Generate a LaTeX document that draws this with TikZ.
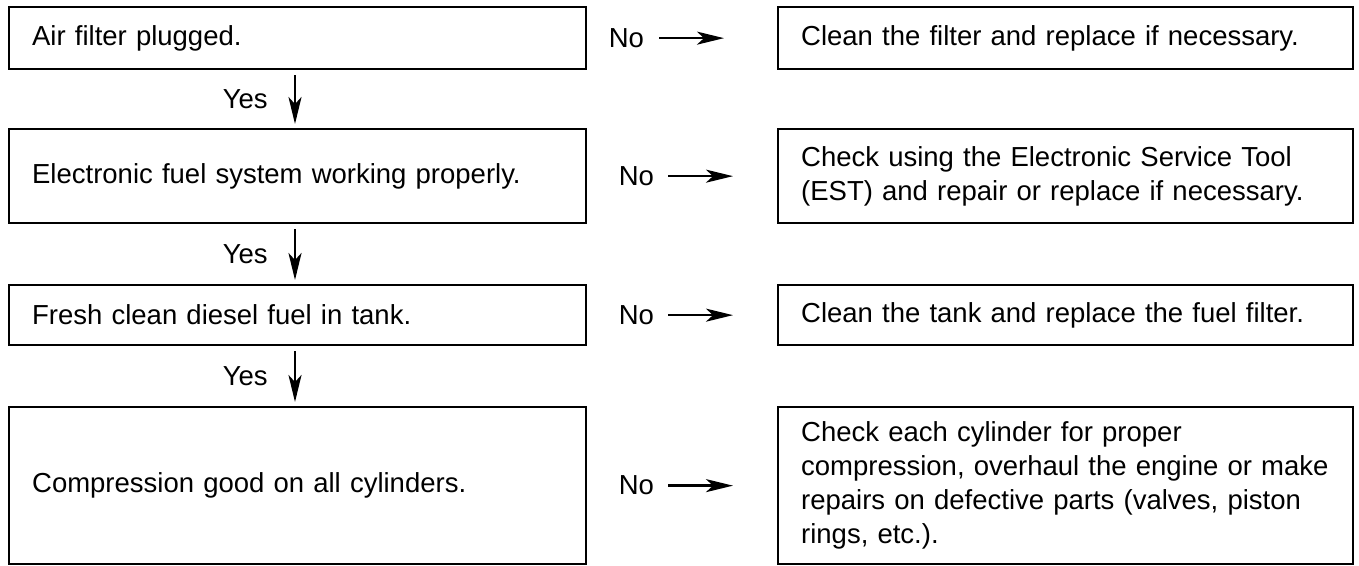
\documentclass[tikz,border=0pt]{standalone}
\usepackage{fontspec}
\setmainfont{Liberation Sans}
\usetikzlibrary{arrows.meta}
\begin{document}
\begin{tikzpicture}[x=1pt,y=-1pt,
  box/.style={draw, line width=2.3pt, anchor=north west, align=left, inner xsep=23pt, inner ysep=0pt, font=\fontsize{27.5}{34}\selectfont},
  lbox/.style={box, text width=531pt},
  rbox/.style={box, text width=529pt},
  arr/.style={line width=2.6pt, -{Stealth[length=27pt,width=13pt,inset=7pt]}},
  lbl/.style={inner sep=0pt, font=\fontsize{27.5}{34}\selectfont}]
\useasboundingbox (0,0) rectangle (1359,565);
% left column
\node[lbox, minimum height=62pt]  (b1) at (8,6)   {Air filter plugged.};
\node[lbox, minimum height=94pt]  (b2) at (8,128) {Electronic fuel system working properly.};
\node[lbox, minimum height=60pt]  (b3) at (8,284) {Fresh clean diesel fuel in tank.};
\node[lbox, minimum height=157pt] (b4) at (8,406) {Compression good on all cylinders.};
% right column
\node[rbox, minimum height=62pt]  (r1) at (777,6)   {Clean the filter and replace if necessary.};
\node[rbox, minimum height=94pt]  (r2) at (777,128) {Check using the Electronic Service Tool\\(EST) and repair or replace if necessary.};
\node[rbox, minimum height=60pt]  (r3) at (777,284) {Clean the tank and replace the fuel filter.};
\node[rbox, minimum height=157pt] (r4) at (777,406) {Check each cylinder for proper\\compression, overhaul the engine or make\\repairs on defective parts (valves, piston\\rings, etc.).};
% Yes arrows
\draw[arr] ([xshift=287pt,yshift=-5pt]b1.south west) -- node[lbl, midway, left=26pt] {Yes} ([xshift=287pt,yshift=4pt]b2.north west);
\draw[arr] ([xshift=287pt,yshift=-5pt]b2.south west) -- node[lbl, midway, left=26pt] {Yes} ([xshift=287pt,yshift=4pt]b3.north west);
\draw[arr] ([xshift=287pt,yshift=-5pt]b3.south west) -- node[lbl, midway, left=26pt] {Yes} ([xshift=287pt,yshift=4pt]b4.north west);
% No arrows
\draw[arr] ([xshift=72pt]b1.east) node[lbl, left=14pt] {No} -- ([xshift=-53pt]r1.west);
\draw[arr] ([xshift=81pt]b2.east) node[lbl, left=13pt] {No} -- ([xshift=-44pt]r2.west);
\draw[arr] ([xshift=81pt]b3.east) node[lbl, left=13pt] {No} -- ([xshift=-44pt]r3.west);
\draw[arr] ([xshift=81pt]b4.east) node[lbl, left=13pt] {No} -- ([xshift=-44pt]r4.west);
\end{tikzpicture}
\end{document}
